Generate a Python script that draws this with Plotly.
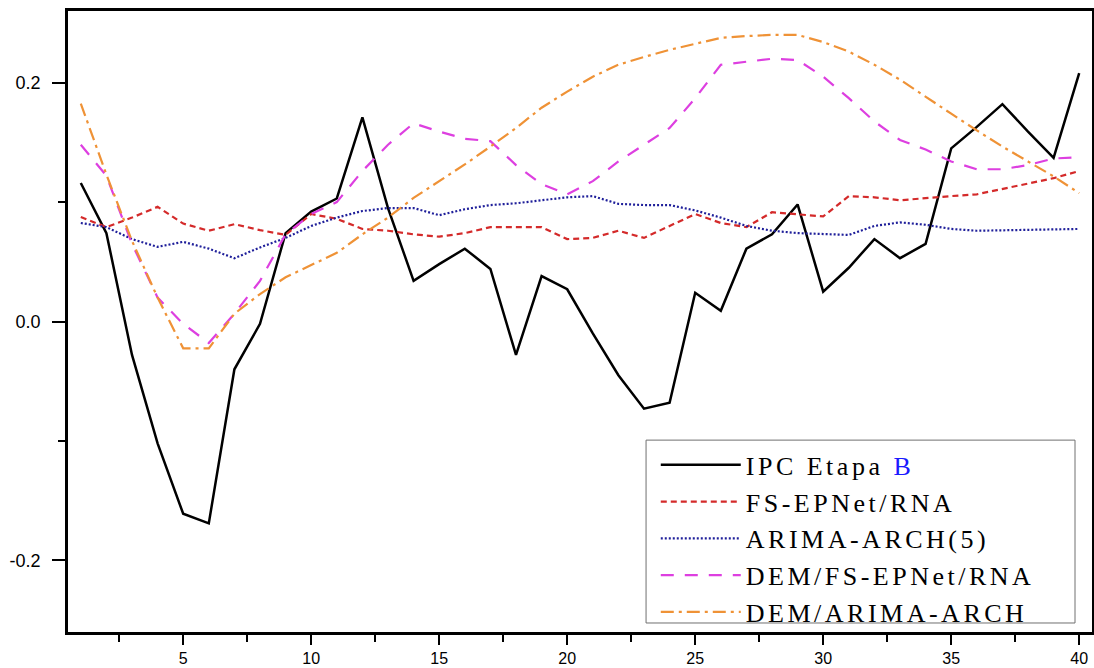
import plotly.graph_objects as go

t = list(range(1, 41))

ipc = [0.116, 0.074, -0.028, -0.102, -0.161, -0.169, -0.040, -0.002, 0.074, 0.092,
       0.103, 0.171, 0.095, 0.034, 0.048, 0.061, 0.044, -0.028, 0.038, 0.027,
       -0.010, -0.045, -0.073, -0.068, 0.024, 0.009, 0.061, 0.073, 0.098, 0.025,
       0.045, 0.069, 0.053, 0.065, 0.145, 0.163, 0.182, 0.159, 0.137, 0.208]

fs_epnet = [0.0875, 0.079, 0.087, 0.096, 0.082, 0.076, 0.0815, 0.0765, 0.0725, 0.090,
            0.086, 0.0775, 0.076, 0.073, 0.071, 0.074, 0.079, 0.079, 0.079, 0.069,
            0.070, 0.076, 0.070, 0.080, 0.090, 0.0825, 0.079, 0.0915, 0.090, 0.088,
            0.105, 0.104, 0.1015, 0.1035, 0.105, 0.1065, 0.111, 0.115, 0.120, 0.126]

arima = [0.0825, 0.079, 0.069, 0.0625, 0.0667, 0.061, 0.053, 0.062, 0.070, 0.080,
         0.087, 0.0925, 0.095, 0.095, 0.089, 0.094, 0.0975, 0.099, 0.1015, 0.104,
         0.105, 0.0985, 0.0975, 0.0975, 0.093, 0.087, 0.080, 0.076, 0.074, 0.073,
         0.0725, 0.080, 0.083, 0.081, 0.0775, 0.076, 0.0765, 0.0765, 0.077, 0.0775]

dem_fs = [0.148, 0.122, 0.065, 0.020, -0.002, -0.018, 0.0065, 0.034, 0.073, 0.090,
          0.100, 0.126, 0.148, 0.166, 0.159, 0.153, 0.151, 0.131, 0.115, 0.1065,
          0.1175, 0.134, 0.148, 0.162, 0.187, 0.215, 0.2175, 0.220, 0.219, 0.205,
          0.187, 0.1675, 0.152, 0.144, 0.134, 0.1275, 0.1275, 0.131, 0.1365, 0.1375]

dem_arima = [0.1825, 0.123, 0.0675, 0.020, -0.0225, -0.0225, 0.0065, 0.023, 0.037, 0.047,
             0.0575, 0.073, 0.087, 0.1035, 0.1175, 0.1315, 0.1465, 0.162, 0.179, 0.1925,
             0.205, 0.215, 0.2215, 0.2275, 0.2325, 0.2375, 0.239, 0.240, 0.240, 0.234,
             0.226, 0.215, 0.2025, 0.188, 0.174, 0.160, 0.1465, 0.134, 0.1215, 0.1075]

x_tickvals = [5, 10, 15, 20, 25, 30, 35, 40]
y_tickvals = [-0.2, 0.0, 0.2]
y_ticktext = ["-0.2", "0.0", "0.2"]

label_names = ["IPC Etapa ", "FS-EPNet/RNA", "ARIMA-ARCH(5)", "DEM/FS-EPNet/RNA", "DEM/ARIMA-ARCH"]
series = [ipc, fs_epnet, arima, dem_fs, dem_arima]
colors = ["#000000", "#d42a2a", "#1f1f9a", "#dd3fe0", "#ef9236"]
dashes = ["solid", "6px,4px", "2px,2px", "13px,11px", "13px,5px,3px,5px"]
widths = [2.5, 2.2, 2.2, 2.2, 2.2]

SP = "letter-spacing:3.5px"
names = []
for i, n in enumerate(label_names):
    if i == 0:
        names.append(f'<span style="{SP}">{n}</span><span style="{SP};color:#1a1aff">B</span>')
    else:
        names.append(f'<span style="{SP}">{n}</span>')

fig = go.Figure()
for n, s, c, d, w in zip(names, series, colors, dashes, widths):
    fig.add_trace(go.Scatter(x=t, y=s, mode="lines", name=n,
                             line=dict(color=c, dash=d, width=w)))

# legend frame (opaque box as in the original figure)
fig.add_shape(type="rect", xref="paper", yref="paper",
              x0=0.5645, x1=0.9834, y0=0.0145, y1=0.309,
              line=dict(color="#707070", width=1), fillcolor="white", layer="above")

fig.update_layout(
    width=1094, height=668,
    margin=dict(l=68, r=2, t=11, b=36),
    paper_bgcolor="white", plot_bgcolor="white",
    showlegend=True,
    legend=dict(x=0.574, y=0.307, xanchor="left", yanchor="top",
                borderwidth=0, bgcolor="rgba(0,0,0,0)",
                font=dict(family="Liberation Serif", size=26, color="black"),
                itemwidth=80, tracegroupgap=0),
)
fig.update_xaxes(range=[0.5, 40.5], tickmode="array", tickvals=x_tickvals,
                 ticks="outside", ticklen=10, tickwidth=2, tickcolor="black",
                 showline=True, linecolor="black", linewidth=2.5, mirror=True,
                 showgrid=False, zeroline=False, automargin=False,
                 tickfont=dict(family="Liberation Sans", size=16, color="black"),
                 minor=dict(tickmode="array", tickvals=[2.5, 7.5, 12.5, 17.5, 22.5, 27.5, 32.5, 37.5],
                            ticks="outside", ticklen=7, tickwidth=2, tickcolor="black", showgrid=False))
fig.update_yaxes(range=[-0.26, 0.26], tickmode="array", tickvals=y_tickvals,
                 ticktext=y_ticktext,
                 ticks="outside", ticklen=13, tickwidth=2, tickcolor="black",
                 showline=True, linecolor="black", linewidth=2.5, mirror=True,
                 showgrid=False, zeroline=False, ticklabelstandoff=8, automargin=False,
                 tickfont=dict(family="Liberation Sans", size=18, color="black"),
                 minor=dict(tickmode="array", tickvals=[-0.1, 0.1],
                            ticks="outside", ticklen=7, tickwidth=2, tickcolor="black", showgrid=False))

fig.write_html("out.html")
